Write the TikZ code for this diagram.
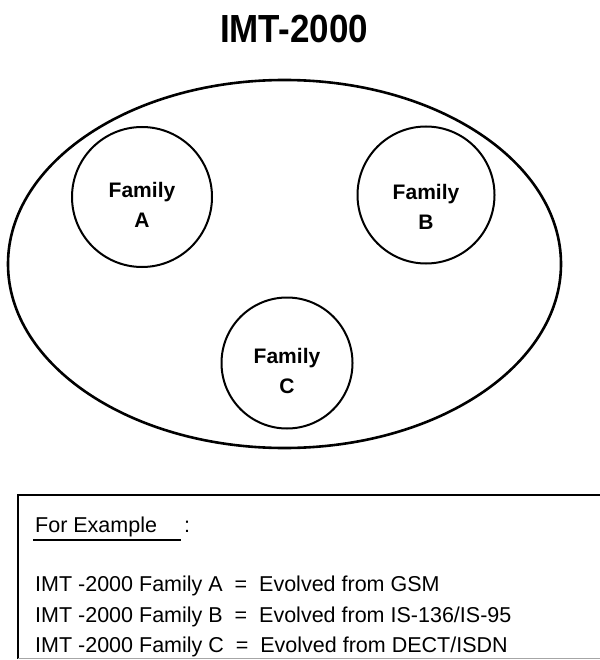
\documentclass[tikz,border=0pt]{standalone}
\usepackage{fontspec}
\setmainfont{Liberation Sans}
\usetikzlibrary{shapes.geometric, positioning}

\begin{document}
\begin{tikzpicture}[x=1pt, y=-1pt,
    family/.style={draw, circle, line width=2pt, minimum size=138pt, inner sep=0pt},
    famlabel/.style={align=center, inner sep=0pt, font=\fontsize{21}{30}\selectfont\bfseries},
    textline/.style={anchor=base west, inner sep=0pt, font=\fontsize{21.5}{24}\selectfont}
]
\useasboundingbox (0,0) rectangle (599,660);

% Title
\node[font=\fontsize{35}{40}\selectfont\bfseries] (title) at (294,29.5) {\scalebox{1}[1.12]{IMT-2000}};

% IMT-2000 and its families
\node[draw, ellipse, line width=2.6pt, minimum width=553pt, minimum height=368pt] (imt) at (284.5,264) {};
\node[family, minimum size=140pt] (famA) at (142,197) {};
\node[family, minimum size=137pt] (famB) at (426,195) {};
\node[family, minimum size=131pt] (famC) at (287,363) {};
\node[famlabel] (labA) at ([yshift=-8pt]famA.center) {Family\\A};
\node[famlabel] (labB) at ([yshift=-12pt]famB.center) {Family\\B};
\node[famlabel] (labC) at ([yshift=-8pt]famC.center) {Family\\C};

% Example box
\draw[line width=2pt] (600,495) -- (18,495) -- (18,659);
\draw[line width=1pt, gray!70] (18,658) -- (600,658);

\node[textline] (forex) at (35,532) {For Example};
\node[textline] (colon) at (184,532) {:};
\draw[line width=2.6pt] ([xshift=-2pt, yshift=-8pt]forex.base west) -- ([xshift=-3pt, yshift=-8pt]colon.base west);

\node[textline] (lineA) at (35,591) {IMT -2000 Family A ~=~ Evolved from GSM};
\node[textline] (lineB) at (35,622) {IMT -2000 Family B ~=~ Evolved from IS-136/IS-95};
\node[textline] (lineC) at (35,652) {IMT -2000 Family C ~=~ Evolved from DECT/ISDN};

\end{tikzpicture}
\end{document}
